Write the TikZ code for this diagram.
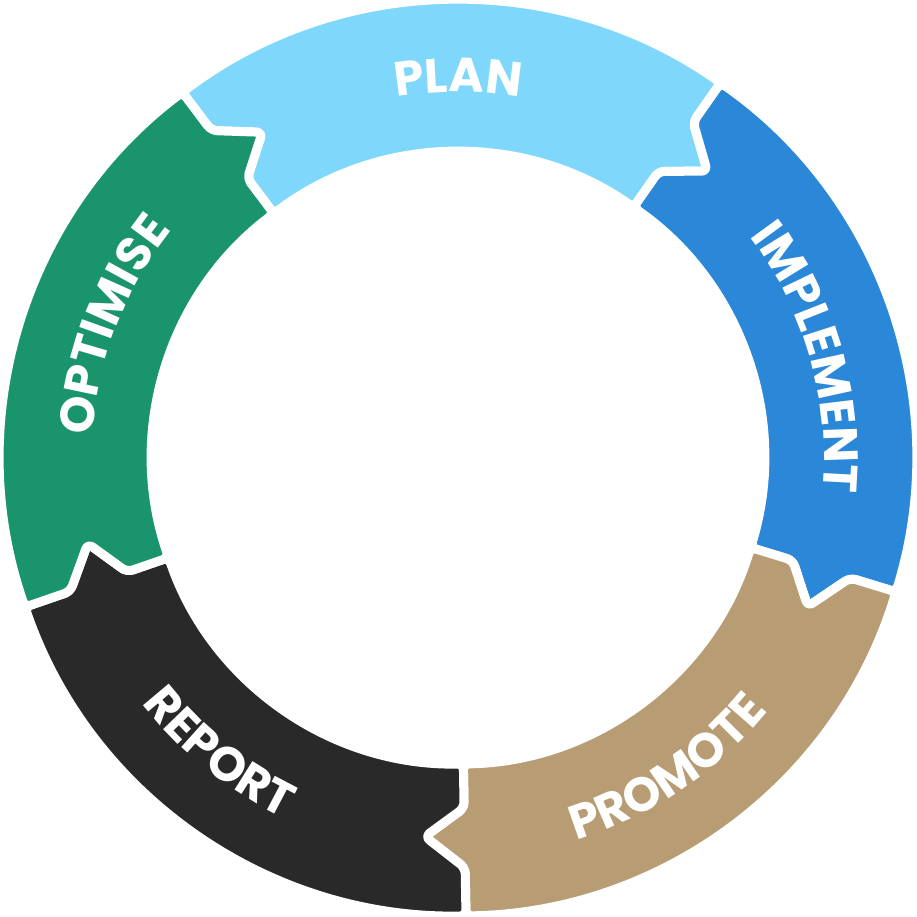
\documentclass[tikz,border=0pt]{standalone}
\usepackage{fontspec}
\setmainfont{Poppins}
\usetikzlibrary{decorations.text}
\definecolor{cplan}{HTML}{7FD8FB}
\definecolor{cimpl}{HTML}{2B87D8}
\definecolor{cprom}{HTML}{B89C74}
\definecolor{crep}{HTML}{292929}
\definecolor{copt}{HTML}{1A946C}
\tikzset{
  seg/.style={fill=#1, draw=white, line width=9pt, line join=round, rounded corners=6pt},
  lbl/.style={decorate, decoration={text along path, text align=center, text color=white,
     text={|\fontsize{48}{48}\selectfont\bfseries|#1}}}
}
\newcommand{\segment}[3]{% start, end, colour
  \path[seg=#3] (#1:458pt) arc[start angle=#1, end angle=#2, radius=458pt]
    -- (#2:410pt) -- ({#2-6}:380pt) -- (#2:350pt)
    -- (#2:306pt) arc[start angle=#2, end angle=#1, radius=306pt]
    -- (#1:350pt) -- ({#1-6}:380pt) -- (#1:410pt) -- cycle;}
\begin{document}
\begin{tikzpicture}
\useasboundingbox (-458pt,-458pt) rectangle (459pt,458pt);
\segment{127}{55}{cplan}
\segment{55}{-17}{cimpl}
\segment{-17}{-89}{cprom}
\segment{-89}{-161}{crep}
\segment{199}{127}{copt}
\path[lbl={PLAN}] (120:366pt) arc[start angle=120, end angle=60, radius=366pt];
\path[lbl={IMPLEMENT}] (52:366pt) arc[start angle=52, end angle=-20, radius=366pt];
\path[lbl={OPTIMISE}] (195:366pt) arc[start angle=195, end angle=123, radius=366pt];
\path[lbl={PROMOTE}] (-92:400pt) arc[start angle=-92, end angle=-20, radius=400pt];
\path[lbl={REPORT}] (-164:400pt) arc[start angle=-164, end angle=-94, radius=400pt];
\end{tikzpicture}
\end{document}
